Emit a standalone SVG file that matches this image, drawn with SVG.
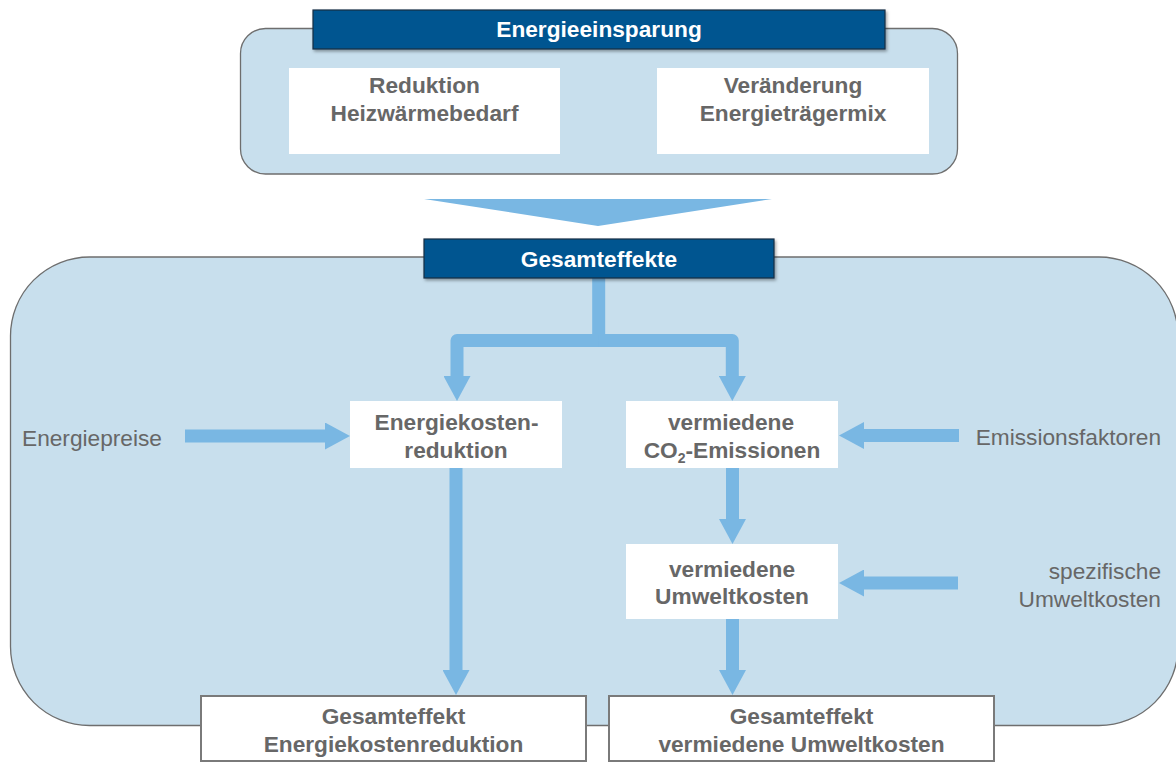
<svg xmlns="http://www.w3.org/2000/svg" width="1176" height="763" viewBox="0 0 1176 763">
  <style>
    .container { fill: #C8DFED; stroke: #6E6E6E; stroke-width: 1.3; }
    .header { fill: #005590; stroke: #1A2E44; stroke-width: 1.2; filter: url(#shadow); }
    .white { fill: #FFFFFF; }
    .result { fill: #FFFFFF; stroke: #7A7A7A; stroke-width: 2; }
    .conn { fill: none; stroke: #79B7E3; stroke-width: 13; stroke-linejoin: round; stroke-linecap: butt; marker-end: url(#ah); }
    .funnel { fill: #79B7E3; }
    .t { font-family: "Liberation Sans", Arial, sans-serif; font-size: 22.7px; fill: #676767; }
    .b { font-weight: bold; text-anchor: middle; }
    .h { font-family: "Liberation Sans", Arial, sans-serif; font-size: 22.7px; font-weight: bold; fill: #FFFFFF; text-anchor: middle; }
    .sub { font-size: 14px; }
  </style>
  <defs>
    <marker id="ah" markerUnits="userSpaceOnUse" markerWidth="25" markerHeight="27" viewBox="0 0 25 27" refX="0" refY="13.5" orient="auto">
      <path d="M0,0 L25,13.5 L0,27 Z" fill="#79B7E3"/>
    </marker>
    <filter id="shadow" x="-5%" y="-20%" width="110%" height="150%">
      <feDropShadow dx="1.5" dy="2" stdDeviation="1.5" flood-color="#000000" flood-opacity="0.35"/>
    </filter>
  </defs>

  <!-- containers -->
  <g id="container-energieeinsparung">
    <rect class="container" x="240.5" y="28.5" width="717" height="145.5" rx="25" ry="25"/>
  </g>
  <g id="container-gesamteffekte">
    <rect class="container" x="10.5" y="257" width="1167.5" height="468.5" rx="79" ry="79"/>
  </g>

  <!-- connectors -->
  <g id="connectors">
    <polygon class="funnel" points="424,199 772,199 598,226"/>
    <path class="conn" d="M598.7,278 V340.5 H457 V376"/>
    <path class="conn" d="M598.7,340.5 H732.3 V376"/>
    <path class="conn" d="M185,436 H325"/>
    <path class="conn" d="M959,435.5 H864"/>
    <path class="conn" d="M958,583 H864"/>
    <path class="conn" d="M732.5,468 V519"/>
    <path class="conn" d="M456,468 V670"/>
    <path class="conn" d="M732.5,619 V670"/>
  </g>

  <!-- nodes -->
  <g id="header-energieeinsparung">
    <rect class="header" x="313" y="10" width="572" height="39"/>
    <text class="h" x="599" y="37">Energieeinsparung</text>
  </g>
  <g id="node-reduktion">
    <rect class="white" x="289" y="68" width="271" height="86"/>
    <text class="t b" x="424.5" y="93.3">Reduktion</text>
    <text class="t b" x="424.5" y="120.7">Heizwärmebedarf</text>
  </g>
  <g id="node-veraenderung">
    <rect class="white" x="657" y="68" width="272" height="86"/>
    <text class="t b" x="793" y="93.3">Veränderung</text>
    <text class="t b" x="793" y="120.7">Energieträgermix</text>
  </g>
  <g id="header-gesamteffekte">
    <rect class="header" x="424" y="239" width="350" height="39"/>
    <text class="h" x="599" y="266.5">Gesamteffekte</text>
  </g>
  <g id="node-energiekostenreduktion">
    <rect class="white" x="350" y="401" width="212" height="67"/>
    <text class="t b" x="456.5" y="430">Energiekosten-</text>
    <text class="t b" x="456" y="457.5">reduktion</text>
  </g>
  <g id="node-co2">
    <rect class="white" x="626" y="401" width="212" height="67"/>
    <text class="t b" x="731" y="430">vermiedene</text>
    <text class="t b" x="732" y="458.3">CO<tspan class="sub" dy="5">2</tspan><tspan dy="-5">-Emissionen</tspan></text>
  </g>
  <g id="node-umweltkosten">
    <rect class="white" x="626" y="544" width="212" height="75"/>
    <text class="t b" x="732" y="577">vermiedene</text>
    <text class="t b" x="732" y="604.3">Umweltkosten</text>
  </g>
  <g id="node-gesamteffekt-energiekosten">
    <rect class="result" x="201" y="696" width="385" height="65"/>
    <text class="t b" x="393.5" y="723.5">Gesamteffekt</text>
    <text class="t b" x="393.5" y="751.7">Energiekostenreduktion</text>
  </g>
  <g id="node-gesamteffekt-umwelt">
    <rect class="result" x="609" y="696" width="385" height="65"/>
    <text class="t b" x="801.5" y="723.5">Gesamteffekt</text>
    <text class="t b" x="801.5" y="751.7">vermiedene Umweltkosten</text>
  </g>
  <g id="label-energiepreise">
    <text class="t" x="22" y="446">Energiepreise</text>
  </g>
  <g id="label-emissionsfaktoren">
    <text class="t" x="1161" y="445" text-anchor="end">Emissionsfaktoren</text>
  </g>
  <g id="label-spezifische-umweltkosten">
    <text class="t" x="1161" y="578.5" text-anchor="end">spezifische</text>
    <text class="t" x="1161" y="606.5" text-anchor="end">Umweltkosten</text>
  </g>
</svg>
